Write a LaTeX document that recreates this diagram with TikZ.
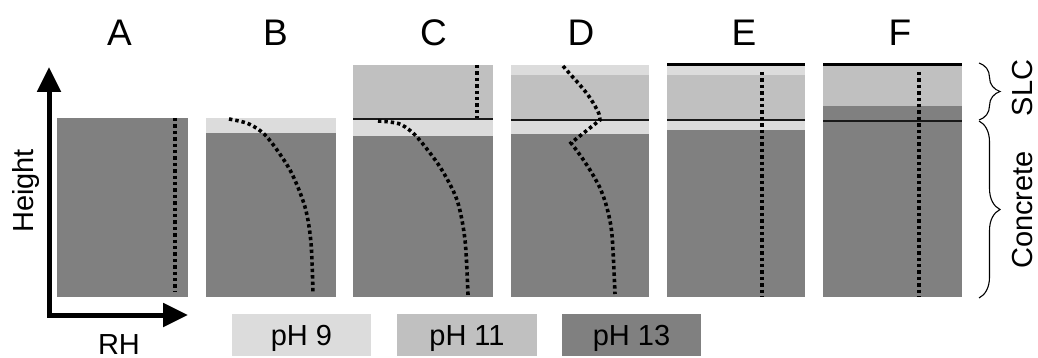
\documentclass[tikz,border=0pt]{standalone}
\usepackage{fontspec}
\setmainfont{Liberation Sans}
\usetikzlibrary{arrows.meta,decorations.pathreplacing}
\definecolor{phnine}{gray}{0.863}
\definecolor{pheleven}{gray}{0.753}
\definecolor{phthirteen}{gray}{0.502}
\begin{document}
\begin{tikzpicture}[x=1pt,y=-1pt,
  rhline/.style={black, line width=3.6pt, dash pattern=on 3.4pt off 3pt},
  ifline/.style={black!90, line width=1.6pt},
  topline/.style={black, line width=3pt},
  lbl/.style={font=\fontsize{37}{40}\selectfont, anchor=base, inner sep=0},
  txt/.style={font=\fontsize{29}{32}\selectfont, anchor=base, inner sep=0},
  axis/.style={line width=5pt, line join=miter, {Triangle[length=25pt,width=23pt]}-{Triangle[length=25pt,width=23pt]}},
  brc/.style={decorate, decoration={brace, amplitude=21pt}, line width=1.1pt},
  legbox/.style={draw=none, minimum width=139pt, minimum height=42pt, inner sep=0}
]
\useasboundingbox (0,0) rectangle (1038,358);

% axes
\coordinate (ytip) at (49,67);
\coordinate (orig) at (49,315);
\coordinate (xtip) at (188,315);
\draw[axis] (ytip) -- (orig) -- (xtip);
\node[txt, rotate=90] (height) at (33,191) {Height};
\node[txt] (rh) at (119,354) {RH};

% panel labels
\node[lbl] (la) at (119.5,46) {A};
\node[lbl] (lb) at (275.5,46) {B};
\node[lbl] (lc) at (433.5,46) {C};
\node[lbl] (ld) at (581,46) {D};
\node[lbl] (le) at (744,46) {E};
\node[lbl] (lf) at (900,46) {F};

% panel A
\fill[phthirteen] (57,118) rectangle (188,297);
\draw[rhline] (175,118) -- (175,292);

% panel B
\fill[phnine] (206,118) rectangle (336,133);
\fill[phthirteen] (206,133) rectangle (336,297);
\draw[rhline] plot[smooth] coordinates {(229,119) (249,124) (267,137) (290,170) (305,207) (311,243) (313,294)};

% panel C
\fill[pheleven] (353,65) rectangle (493,119);
\fill[phnine] (353,119) rectangle (493,136);
\fill[phthirteen] (353,136) rectangle (493,297);
\draw[ifline] (353,119) -- (493,119);
\draw[rhline] (477,65) -- (477,118);
\draw[rhline] plot[smooth] coordinates {(378,121) (390,122) (402,125) (417,137) (440,167) (457,200) (465,240) (468,295)};

% panel D
\fill[phnine] (511,65) rectangle (649,75);
\fill[pheleven] (511,75) rectangle (649,120);
\fill[phnine] (511,120) rectangle (649,134);
\fill[phthirteen] (511,134) rectangle (649,297);
\draw[ifline] (511,120) -- (649,120);
\draw[rhline] plot[smooth] coordinates {(563,66) (570,74) (579,84) (588,95) (595,106) (599,114) (600,120)}
  -- plot[smooth] coordinates {(571,143) (580,155) (590,170) (600,188) (607,208) (612,235) (615,294)};

% panel E
\fill[phnine] (667,65) rectangle (805,75);
\fill[pheleven] (667,75) rectangle (805,120);
\fill[phnine] (667,120) rectangle (805,130);
\fill[phthirteen] (667,130) rectangle (805,297);
\draw[topline] (667,64.5) -- (805,64.5);
\draw[ifline] (667,120) -- (805,120);
\draw[rhline] (762,72) -- (762,297);

% panel F
\fill[pheleven] (823,65) rectangle (962,106);
\fill[phthirteen] (823,106) rectangle (962,297);
\draw[topline] (823,65) -- (962,65);
\draw[ifline] (823,121) -- (962,121);
\draw[rhline] (919,72) -- (919,297);

% braces
\coordinate (slctop) at (979,63);
\coordinate (slcbot) at (979,120);
\coordinate (contop) at (979,121);
\coordinate (conbot) at (979,298);
\draw[brc] (slctop) -- (slcbot);
\draw[brc] (contop) -- (conbot);
\node[txt, rotate=90] (slc) at (1032,88) {SLC};
\node[txt, rotate=90] (conc) at (1032,210) {Concrete};

% legend
\node[legbox, fill=phnine] (b9) at (301.5,335) {};
\node[legbox, fill=pheleven, minimum width=140pt] (b11) at (467,335) {};
\node[legbox, fill=phthirteen] (b13) at (631.5,335) {};
\node[txt] (t9) at (b9.center |- 0,345) {pH 9};
\node[txt] (t11) at (b11.center |- 0,345) {pH 11};
\node[txt] (t13) at (b13.center |- 0,345) {pH 13};
\end{tikzpicture}
\end{document}
